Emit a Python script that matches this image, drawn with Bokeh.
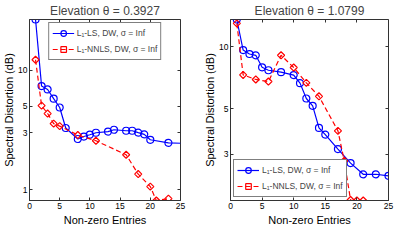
import numpy as np
from bokeh.plotting import figure
from bokeh.models import (Range1d, FixedTicker, PrintfTickFormatter, LogAxis,
                          LinearAxis, Legend, LegendItem, Title)
from bokeh.layouts import row
from bokeh.embed import file_html
from bokeh.resources import INLINE

# ---------------- data ----------------
titles = ["Elevation θ = 0.3927", "Elevation θ = 1.0799"]
x_label = "Non-zero Entries"
y_label = "Spectral Distortion (dB)"
label_ls = "L₁-LS, DW, σ = Inf"
label_nnls = "L₁-NNLS, DW, σ = Inf"
x_ticks = [0, 5, 10, 15, 20, 25]
y_ticks = [1, 3, 5, 10]

# Elevation 0.3927
xa_ls = [1, 2, 3, 4, 5, 6, 8, 9, 10, 11, 13, 14, 16, 17, 18, 19, 20, 23, 26]
ya_ls = [26.8, 7.4, 6.93, 5.8, 4.89, 3.29, 2.66, 2.79, 2.89, 3.0, 3.07, 3.18,
         3.12, 3.12, 3.01, 2.91, 2.62, 2.47, 2.44]
xa_nn = [1, 2, 3, 4, 5, 8, 11, 16, 18, 20, 21, 23]
ya_nn = [12.3, 5.07, 4.35, 3.58, 3.41, 2.87, 2.57, 1.96, 1.35, 1.06, 0.81, 0.84]

# Elevation 1.0799
xb_ls = [1, 2, 3, 4, 5, 6, 8, 10, 11, 12, 13, 14, 15, 17, 19, 21, 23, 25]
yb_ls = [13.55, 9.63, 9.21, 9.08, 7.94, 7.68, 7.52, 7.28, 6.65, 5.6, 5.16,
         4.03, 3.74, 3.18, 2.72, 2.4, 2.4, 2.36]
xb_nn = [1, 2, 4, 6, 8, 10, 12, 14, 17, 18, 19, 20, 21]
yb_nn = [12.98, 7.29, 6.93, 6.77, 9.08, 7.92, 6.67, 5.74, 3.9, 2.79, 1.8,
         1.79, 1.79]

X_MIN, X_MAX = 0, 25

FONT = "Liberation Sans"
AXC = "#333333"
BLUE = "#0000ff"
RED = "#ff0000"


def style_axis(ax, ticks, label=None, show_labels=True, label_standoff=0):
    ax.ticker = FixedTicker(ticks=ticks)
    ax.axis_line_color = AXC
    ax.major_tick_line_color = AXC
    ax.major_tick_in = 3
    ax.major_tick_out = 0
    ax.minor_tick_line_color = None
    ax.major_label_text_font = FONT
    ax.major_label_text_line_height = 1.0
    if show_labels:
        ax.major_label_text_color = "#000000"
        ax.major_label_text_font_size = "8.5px"
        ax.major_label_standoff = 2
    else:
        ax.major_label_text_color = None
        ax.major_label_text_font_size = "1px"
        ax.major_label_standoff = 0
    if label:
        ax.axis_label = label
        ax.axis_label_text_font = FONT
        ax.axis_label_text_font_size = "11px"
        ax.axis_label_text_font_style = "normal"
        ax.axis_label_text_color = "#000000"
        ax.axis_label_text_line_height = 1.0
        ax.axis_label_standoff = label_standoff


def panel(title, xls, yls, xnn, ynn, width, mbl, mbr, legend_loc, legend_margin):
    ymin = min(min(yls), min(ynn))
    ymax = max(max(yls), max(ynn))
    p = figure(width=width, height=225, y_axis_type="log",
               x_range=Range1d(X_MIN, X_MAX), y_range=Range1d(ymin, ymax),
               output_backend="svg", toolbar_location=None,
               min_border_left=mbl, min_border_right=mbr,
               min_border_top=0, min_border_bottom=0, title=title)
    p.title.text_font = FONT
    p.title.text_font_size = "12px"
    p.title.text_font_style = "normal"
    p.title.align = "center"
    p.title.standoff = 3
    p.grid.visible = False
    p.outline_line_color = AXC
    p.background_fill_color = "white"
    p.border_fill_color = "white"

    style_axis(p.xaxis[0], x_ticks)
    style_axis(p.yaxis[0], y_ticks, y_label)
    p.yaxis[0].formatter = PrintfTickFormatter(format="%d")

    xt = Title(text=x_label, align="center", text_font=FONT,
               text_font_size="11px", text_font_style="normal",
               text_color="#000000", standoff=0, offset=0)
    p.add_layout(xt, "below")

    # box ticks on the top and right edges, drawn on the frame edges
    top = LinearAxis(fixed_location=ymax)
    style_axis(top, x_ticks, show_labels=False)
    p.add_layout(top, "above")
    right = LogAxis(fixed_location=X_MAX)
    style_axis(right, y_ticks, show_labels=False)
    p.add_layout(right, "right")

    l1 = p.line(xls, yls, line_color=BLUE, line_width=1.2)
    s1 = p.scatter(xls, yls, marker="circle", size=7, line_color=BLUE,
                   fill_color=None, line_width=1.2)
    l2 = p.line(xnn, ynn, line_color=RED, line_width=1.2, line_dash="5 3")
    s2 = p.scatter(xnn, ynn, marker="square", angle=np.pi / 4, size=5,
                   line_color=RED, fill_color=None, line_width=1.2)

    leg = Legend(items=[LegendItem(label=label_ls, renderers=[l1, s1]),
                        LegendItem(label=label_nnls, renderers=[l2, s2])],
                 location=legend_loc)
    leg.label_text_font = FONT
    leg.label_text_font_size = "8.5px"
    leg.glyph_width = 22
    leg.glyph_height = 14
    leg.label_height = 14
    leg.label_standoff = 3
    leg.padding = 3
    leg.spacing = 2
    leg.margin = legend_margin
    leg.border_line_color = "#000000"
    leg.border_line_width = 1
    leg.background_fill_alpha = 1.0
    p.add_layout(leg)
    return p


p1 = panel(titles[0], xa_ls, ya_ls, xa_nn, ya_nn, 190, 23, 10, "top", 3)
p2 = panel(titles[1], xb_ls, yb_ls, xb_nn, yb_nn, 205, 40, 7, "bottom_left", 3)

p = row(p1, p2)
open("out.html", "w").write(file_html(p, INLINE))
